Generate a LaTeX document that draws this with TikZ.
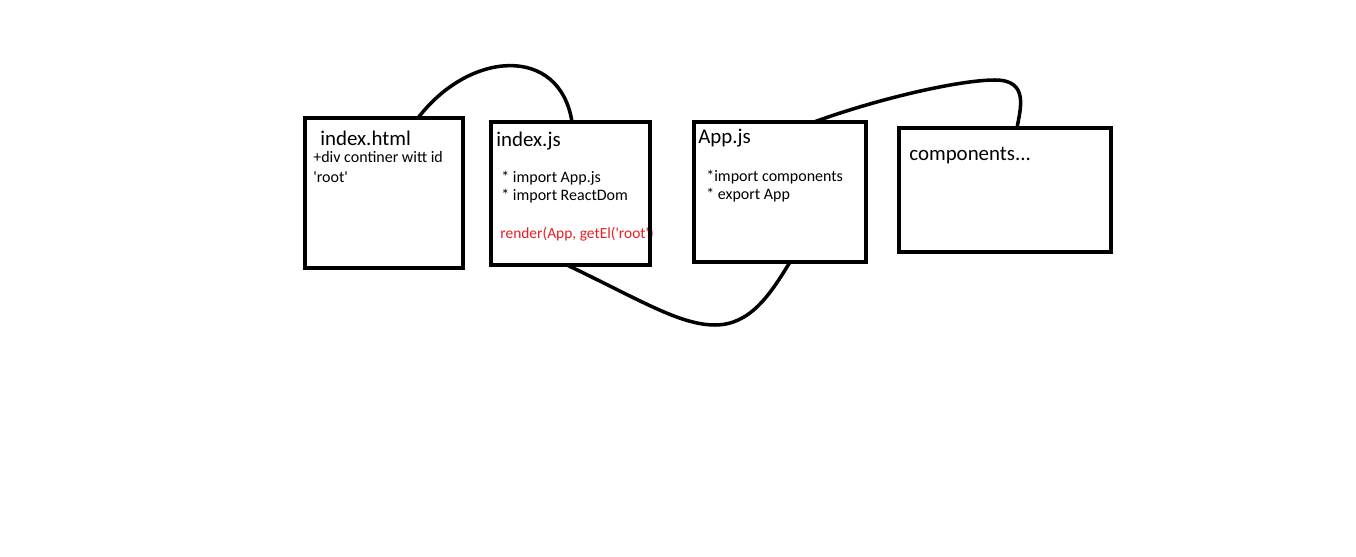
\documentclass[tikz,border=0pt]{standalone}
\usepackage{fontspec}
\setmainfont{Carlito}
\usepackage{xcolor}
\usepackage{tikz}
\usetikzlibrary{shapes,arrows,calc}
\definecolor{paintred}{RGB}{237,28,36}

\begin{document}
\begin{tikzpicture}[x=0.02cm,y=-0.02cm]
    \tikzstyle{block} = [draw, shape=rectangle, line width=2.3pt, inner sep=0pt, outer sep=0pt]
    \tikzstyle{title} = [anchor=base west, inner sep=0pt, font=\fontsize{11.9}{14}\selectfont]
    \tikzstyle{note} = [anchor=base west, inner sep=0pt, font=\fontsize{9.1}{11}\selectfont]
    \tikzstyle{link} = [line width=2pt]
    \useasboundingbox (0,0) rectangle (1356,557);
    %Texts
    \node [title] (htmltitle) at (320,146) {index.html};
    \node [note] (htmlnote) at (313,163) {+div continer witt id};
    \node [note] (htmlroot) at (313,183) {\textquotesingle root\textquotesingle};
    \node [title] (jstitle) at (496,147) {index.js};
    \node [note] (jsapp) at (501,183) {* import App.js};
    \node [note] (jsdom) at (501,201) {* import ReactDom};
    \node [note, text=paintred, font=\fontsize{8.8}{11}\selectfont] (jsrender) at (500,239) {render(App, getEl(\textquotesingle root\textquotesingle)};
    \node [title] (apptitle) at (698,144) {App.js};
    \node [note] (appimport) at (706,182) {*import components};
    \node [note] (appexport) at (706,200) {* export App};
    \node [title] (comptitle) at (909,161) {components...};
    %Creating Blocks
    \node [block, minimum width=158*0.02cm, minimum height=150*0.02cm] (html) at (384,193) {};
    \node [block, minimum width=159*0.02cm, minimum height=143*0.02cm] (indexjs) at (570.5,193.5) {};
    \node [block, minimum width=172*0.02cm, minimum height=140*0.02cm] (appjs) at (780,192) {};
    \node [block, minimum width=212*0.02cm, minimum height=124*0.02cm] (comp) at (1005,190) {};
    %Conecting Blocks
    \begin{scope}[link]
        \draw ($(html.north)+(34,0)$) .. controls (470,50) and (560,45) .. ($(indexjs.north)+(1.5,0)$);
        \draw ($(appjs.north)+(34,0)$) .. controls (880,98) and (960,80) .. (995,80)
            .. controls (1030,80) and (1020,110) .. ($(comp.north)+(12,0)$);
        \draw ($(indexjs.south)+(-3.5,0)$) .. controls (640,300) and (680,325) .. (715,325)
            .. controls (750,325) and (770,295) .. ($(appjs.south)+(10,0)$);
    \end{scope}
\end{tikzpicture}
\end{document}
